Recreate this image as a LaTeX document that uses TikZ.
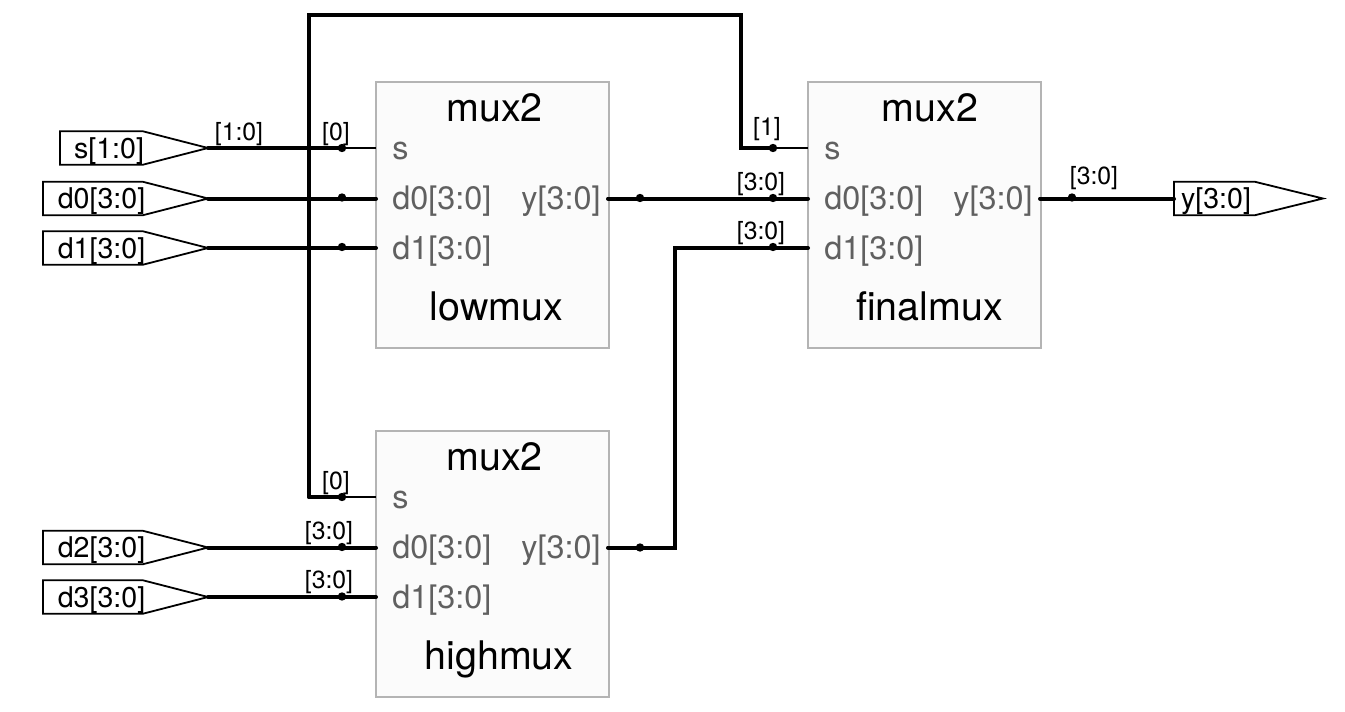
\documentclass[tikz,border=0pt]{standalone}
\usepackage{fontspec}
\setmainfont{TeX Gyre Heros}
\usetikzlibrary{calc}
\definecolor{pingray}{HTML}{606060}
\definecolor{boxfill}{HTML}{FBFBFB}
\definecolor{boxline}{HTML}{B4B4B4}
\tikzset{
	muxbox/.style={draw=boxline,fill=boxfill,line width=1pt,minimum width=116.5pt,minimum height=133pt,inner sep=0pt},
	pintext/.style={text=pingray,inner sep=0pt,font=\fontsize{16.2}{18}\selectfont},
	titletext/.style={inner sep=0pt,anchor=base,font=\fontsize{19.7}{22}\selectfont},
	porttext/.style={inner sep=0pt,anchor=base,font=\fontsize{14.3}{16}\selectfont},
	buslabel/.style={inner sep=0pt,anchor=base,font=\fontsize{12.4}{14}\selectfont},
	bus/.style={line width=2pt,line cap=round},
	wire/.style={line width=0.8pt},
	portline/.style={line width=0.9pt,line join=miter,fill=white},
	tap/.style={circle,fill=black,inner sep=0pt,minimum size=4.2pt},
}
% name, left, top, instance name, instance centre, title centre
\newcommand{\muxblock}[6]{
	\node[muxbox,anchor=north west] (#1) at ($(#2,#3)+(-1,-0.6)$) {};
	\node[titletext] (#1title) at ($(#2,#3)+(#6,39)$) {mux2};
	\node[titletext] (#1inst) at ($(#2,#3)+(#5,238.5)$) {#4};
	\coordinate (#1s) at ($(#2,#3)+(0,66)$);
	\coordinate (#1dzero) at ($(#2,#3)+(0,116.5)$);
	\coordinate (#1done) at ($(#2,#3)+(0,166)$);
	\coordinate (#1y) at ($(#2,#3)+(232,116.5)$);
	\node[pintext,anchor=base west] (#1stext) at ($(#1s)+(16,11)$) {s};
	\node[pintext,anchor=base west] (#1dzerotext) at ($(#1dzero)+(16,11)$) {d0[3:0]};
	\node[pintext,anchor=base west] (#1donetext) at ($(#1done)+(16,11)$) {d1[3:0]};
	\node[pintext,anchor=base east] (#1ytext) at ($(#1y)+(-7,11)$) {y[3:0]};
}
% name, left, knee, tip, y, text
\newcommand{\portshape}[7]{
	\coordinate (#1) at (#4,#5);
	\draw[portline] (#2,#5-16.7) -- (#3,#5-16.7) -- (#1) -- (#3,#5+16.7) -- (#2,#5+16.7) -- cycle;
	\node[porttext] (#1text) at (#7,#5+10) {#6};
}
\begin{document}
\begin{tikzpicture}[x=0.5pt,y=-0.5pt]
	\useasboundingbox (0,0) rectangle (1345,712);

	\muxblock{lowmux}{376}{82}{lowmux}{120.5}{118.5}
	\muxblock{highmux}{376}{431}{highmux}{123}{118.5}
	\muxblock{finalmux}{808}{82}{finalmux}{121.5}{122}

	\portshape{sport}{60}{143}{208}{148}{s[1:0]}{109}
	\portshape{dzeroport}{43}{143}{208}{198.5}{d0[3:0]}{101.5}
	\portshape{doneport}{43}{143}{208}{248}{d1[3:0]}{101.5}
	\portshape{dtwoport}{43}{143}{208}{547.5}{d2[3:0]}{101.5}
	\portshape{dthreeport}{43}{143}{208}{597}{d3[3:0]}{101.5}

	\coordinate (ytip) at (1323,198.5);
	\draw[portline] (1174,181.8) -- (1255,181.8) -- (ytip) -- (1255,215.2) -- (1174,215.2) -- cycle;
	\node[porttext] (yporttext) at (1216,208) {y[3:0]};

	% taps on the nets
	\coordinate (lowtap) at (342,148);
	\coordinate (hightap) at (342,497);
	\coordinate (finaltap) at (773,148);
	\coordinate (busjoin) at (309,497);
	\coordinate (bustop) at (309,15);
	\coordinate (busright) at (741,15);
	\coordinate (riser) at (675,547.5);

	\draw[wire] (lowtap) -- (lowmuxs);
	\draw[wire] (hightap) -- (highmuxs);
	\draw[wire] (finaltap) -- (finalmuxs);
	\draw[bus] (sport) -- (lowtap);
	\draw[bus] (busjoin) -- (bustop) -- (busright) -- (busright |- finaltap) -- (finaltap);
	\draw[bus] (busjoin) -- (hightap);
	\draw[bus] (dzeroport) -- (lowmuxdzero);
	\draw[bus] (doneport) -- (lowmuxdone);
	\draw[bus] (dtwoport) -- (highmuxdzero);
	\draw[bus] (dthreeport) -- (highmuxdone);
	\draw[bus] (lowmuxy) -- (finalmuxdzero);
	\draw[bus] (highmuxy) -- (riser) -- (riser |- finalmuxdone) -- (finalmuxdone);
	\draw[bus] (finalmuxy) -- (finalmuxy -| 1174,0);

	\foreach \tapname/\tapx/\tapy in {a/342/148,b/342/197.5,c/342/247,d/342/497,e/342/547,f/342/596.5,
		g/640/198,h/640/547.5,i/773/148,j/773/198,k/773/247,l/1072/197.5}
		\node[tap] (tap\tapname) at (\tapx,\tapy) {};

	\node[buslabel] (labsel) at (239,140) {[1:0]};
	\node[buslabel] (lablow) at (336,140) {[0]};
	\node[buslabel] (labhigh) at (336,489) {[0]};
	\node[buslabel] (labtwo) at (329,539) {[3:0]};
	\node[buslabel] (labthree) at (329,588) {[3:0]};
	\node[buslabel] (labfinal) at (767,135) {[1]};
	\node[buslabel] (labzero) at (761,190) {[3:0]};
	\node[buslabel] (labone) at (761,239) {[3:0]};
	\node[buslabel] (labout) at (1094,184) {[3:0]};
\end{tikzpicture}
\end{document}
